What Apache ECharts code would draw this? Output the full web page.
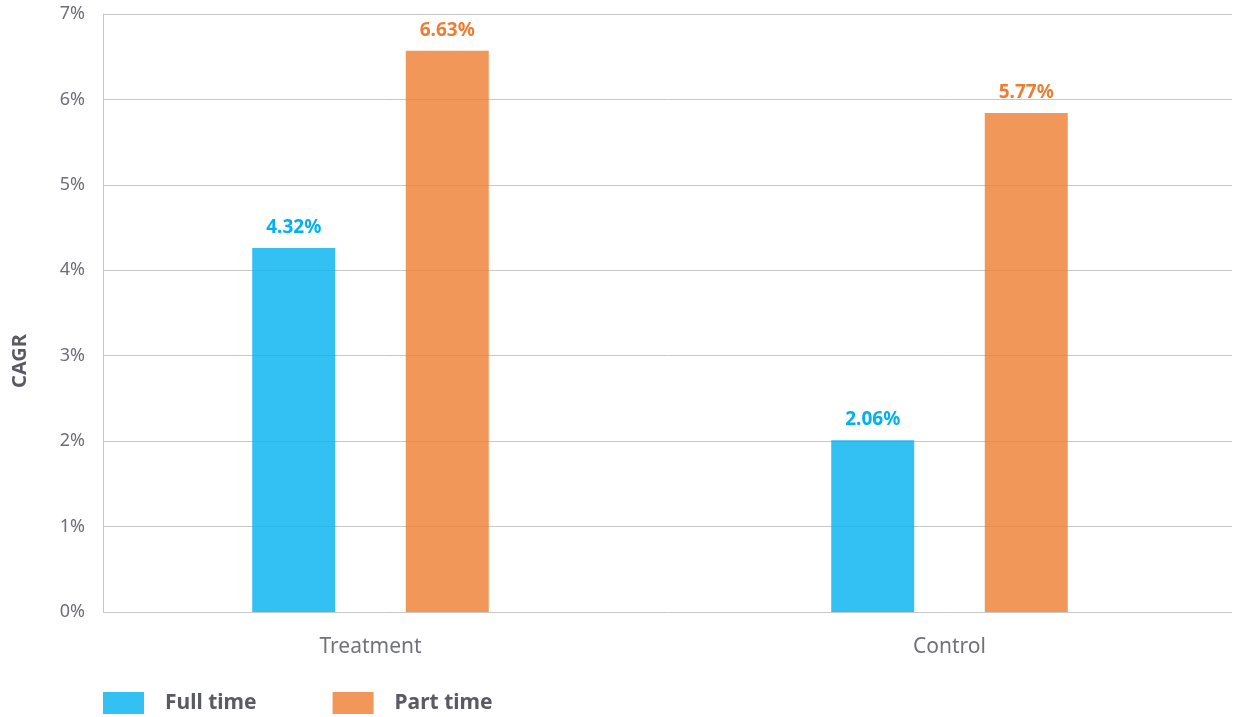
<!DOCTYPE html>
<html><head><meta charset="utf-8">
<script src="https://cdn.jsdelivr.net/npm/echarts@6/dist/echarts.min.js"></script>
<style>html,body{margin:0;padding:0;background:#fff}#c{width:1233px;height:717px}</style>
</head><body><div id="c"></div>
<script>
const categories = ['Treatment', 'Control'];
const seriesNames = ['Full time', 'Part time'];
const fullTime = [4.26, 2.01];
const partTime = [6.57, 5.84];
const fullTimeLabels = ['4.32', '2.06'];
const partTimeLabels = ['6.63', '5.77'];
const yTicks = [0, 1, 2, 3, 4, 5, 6, 7];

const chart = echarts.init(document.getElementById('c'));
const FONT = '"Noto Sans", "Open Sans", sans-serif';
const labelColors = ['#00B0F0', '#ED7D31'];
const barColors = ['rgba(0,176,240,0.8)', 'rgba(237,125,49,0.8)'];
function mkSeries(name, data, labels, color, barColor) {
  return {
    name: name, type: 'bar', data: data, xAxisIndex: 1, yAxisIndex: 1,
    barWidth: 83, barGap: '85%',
    itemStyle: { color: barColor },
    label: {
      show: true, position: 'top', distance: 11,
      fontFamily: FONT, fontSize: 19, fontWeight: 'bold', color: color,
      formatter: p => labels[p.dataIndex] + '%'
    }
  };
}
chart.setOption({
  animation: false,
  textStyle: { fontFamily: FONT },
  grid: [
    { left: 103, width: 1129, top: 14, bottom: 105, outerBoundsMode: 'none' },
    { left: 81, width: 1158, top: 14, bottom: 105, outerBoundsMode: 'none' }
  ],
  xAxis: [
    { gridIndex: 0, type: 'value', show: false, min: 0, max: 1 },
    { gridIndex: 1, type: 'category', data: categories,
      axisLine: { show: false }, axisTick: { show: false },
      axisLabel: { margin: 25, fontSize: 21, color: '#72727c', fontFamily: FONT } }
  ],
  yAxis: [
    { gridIndex: 0, type: 'value', min: yTicks[0], max: yTicks[yTicks.length - 1], interval: 1,
      axisLine: { show: true, lineStyle: { color: '#c8c8c8', width: 1 } },
      axisTick: { show: false },
      splitLine: { show: true, lineStyle: { color: '#c8c8c8', width: 1 } },
      axisLabel: { margin: 18, fontSize: 18, color: '#6e6e78', fontFamily: FONT, formatter: v => v + '%' } },
    { gridIndex: 1, type: 'value', min: yTicks[0], max: yTicks[yTicks.length - 1], interval: 1, show: false }
  ],
  legend: {
    left: 103, top: 692, padding: 0, itemWidth: 41, itemHeight: 22, itemGap: 76,
    icon: 'rect',
    data: seriesNames,
    textStyle: { fontFamily: FONT, fontSize: 21, fontWeight: 'bold', color: '#5a5a62', padding: [4, 0, 0, 16] }
  },
  graphic: [{
    type: 'text', x: 20, y: 361, rotation: Math.PI / 2,
    style: { text: 'CAGR', fontFamily: FONT, fontSize: 20, fontWeight: 'bold', fill: '#5a5a62',
      align: 'center', verticalAlign: 'middle' }
  }],
  series: [
    mkSeries(seriesNames[0], fullTime, fullTimeLabels, labelColors[0], barColors[0]),
    mkSeries(seriesNames[1], partTime, partTimeLabels, labelColors[1], barColors[1])
  ]
});
</script></body></html>
